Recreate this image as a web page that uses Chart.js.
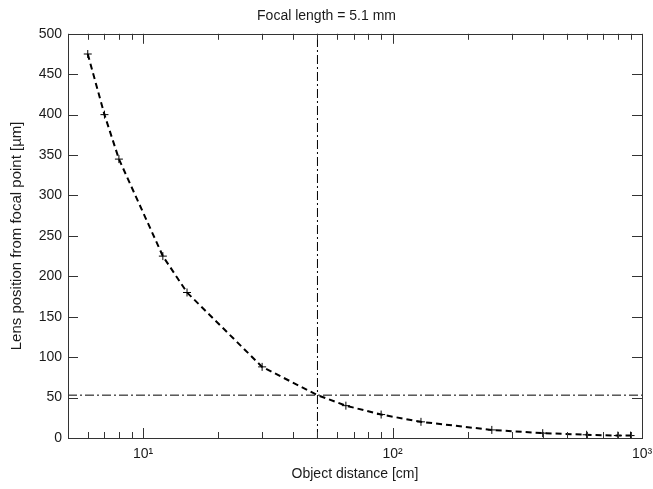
<!DOCTYPE html>
<html>
<head>
<meta charset="utf-8">
<script src="https://cdn.jsdelivr.net/npm/chart.js@4.4.0/dist/chart.umd.min.js"></script>
<style>
html,body{margin:0;padding:0;background:#fff;}
</style>
</head>
<body>
<canvas id="chart" width="653" height="489"></canvas>
<script>
// measured points (object distance in cm, lens position in µm)
const distances = [6, 7, 8, 12, 15, 30, 50, 65, 90, 130, 250, 400, 600, 800, 900];
const positions = [475, 400, 345, 225, 180, 88, 53, 40, 29, 20, 10, 6, 4, 3, 3];

// reference lines
const refDistance = 50;
const refPosition = 53;

const xTicks = [5, 6, 7, 8, 9, 10, 20, 30, 40, 50, 60, 70, 80, 90, 100, 200, 300, 400, 500, 600, 700, 800, 900, 1000];
const xLabels = {10: "10¹", 100: "10²", 1000: "10³"};
const yTicks = [0, 50, 100, 150, 200, 250, 300, 350, 400, 450, 500];

const isMajor = v => v === 10 || v === 100 || v === 1000;

Chart.defaults.font.family = "'Liberation Sans', Arial, sans-serif";
Chart.defaults.font.size = 14;
Chart.defaults.color = "#1a1a1a";

// box frame with ticks pointing inwards on all four sides
const frameTicks = {
    id: "frameTicks",
    afterDraw(chart){
        const {ctx, chartArea: a, scales: {x, y}} = chart;
        ctx.save();
        ctx.strokeStyle = "#333";
        ctx.lineWidth = 1;
        ctx.beginPath();
        xTicks.forEach(v=>{
            const px = Math.round(x.getPixelForValue(v)) + 0.5;
            const len = isMajor(v) ? 10 : 6;
            ctx.moveTo(px, a.bottom); ctx.lineTo(px, a.bottom - len);
            ctx.moveTo(px, a.top); ctx.lineTo(px, a.top + len);
        });
        yTicks.forEach(v=>{
            const py = Math.round(y.getPixelForValue(v)) + 0.5;
            ctx.moveTo(a.left, py); ctx.lineTo(a.left + 10, py);
            ctx.moveTo(a.right, py); ctx.lineTo(a.right - 10, py);
        });
        ctx.stroke();
        ctx.strokeRect(Math.round(a.left) + 0.5, Math.round(a.top) + 0.5,
            Math.round(a.right - a.left), Math.round(a.bottom - a.top));
        ctx.restore();
    }
};

new Chart(document.getElementById("chart"), {
    type: "scatter",
    data: {
        datasets: [{
            data: distances.map((d, i)=>({x: d, y: positions[i]})),
            showLine: true,
            borderColor: "#000",
            borderWidth: 2,
            borderDash: [6, 4],
            tension: 0,
            pointStyle: "cross",
            pointRadius: distances.map(d=>d === refDistance ? 0 : 4),
            pointBorderWidth: 1,
            pointBorderColor: "#000"
        }, {
            data: [{x: xTicks[0], y: refPosition}, {x: xTicks[xTicks.length - 1], y: refPosition}],
            showLine: true,
            borderColor: "#000",
            borderWidth: 1,
            borderDash: [9, 3, 2, 3],
            pointRadius: 0
        }, {
            data: [{x: refDistance, y: yTicks[0]}, {x: refDistance, y: yTicks[yTicks.length - 1]}],
            showLine: true,
            borderColor: "#000",
            borderWidth: 1,
            borderDash: [9, 3, 2, 3],
            pointRadius: 0
        }]
    },
    options: {
        responsive: false,
        animation: false,
        layout: {padding: 0},
        plugins: {
            legend: {display: false},
            tooltip: {enabled: false},
            title: {
                display: true,
                text: "Focal length = 5.1 mm",
                font: {size: 14, weight: "normal"},
                padding: {top: 8, bottom: 9}
            }
        },
        scales: {
            x: {
                type: "logarithmic",
                min: 5,
                max: 1000,
                afterBuildTicks: s=>{ s.ticks = xTicks.map(v=>({value: v, major: isMajor(v)})); },
                afterFit: s=>{ s.height = 51; s.paddingLeft = 0; s.paddingRight = 11; },
                grid: {display: false, drawTicks: false},
                border: {display: false},
                ticks: {
                    autoSkip: false,
                    maxRotation: 0,
                    padding: 8,
                    callback: v=>xLabels[v] || ""
                },
                title: {display: true, text: "Object distance [cm]", padding: {top: 0, bottom: 6}}
            },
            y: {
                min: 0,
                max: 500,
                afterBuildTicks: s=>{ s.ticks = yTicks.map(v=>({value: v})); },
                afterFit: s=>{ s.width = 68; s.paddingTop = 0; s.paddingBottom = 0; },
                grid: {display: false, drawTicks: false},
                border: {display: false},
                ticks: {padding: 6},
                title: {display: true, text: "Lens position from focal point [µm]", font: {size: 15}, padding: {top: 8, bottom: 0}}
            }
        }
    },
    plugins: [frameTicks]
});
</script>
</body>
</html>
